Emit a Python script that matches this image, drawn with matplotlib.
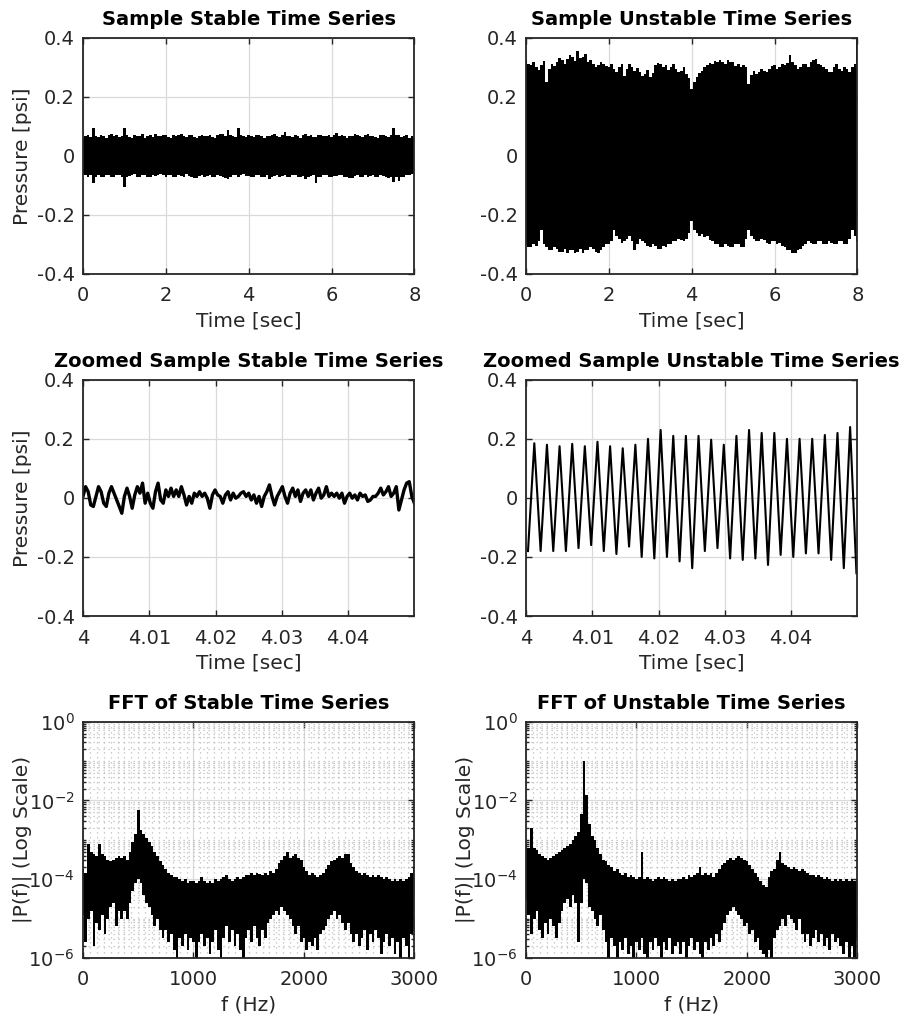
import numpy as np
import matplotlib
matplotlib.use("Agg")
import matplotlib.pyplot as plt
from matplotlib.ticker import MultipleLocator, LogLocator, NullFormatter

plt.rcParams['font.family'] = ['DejaVu Sans']
plt.rcParams['axes.unicode_minus'] = False

# ---- envelopes of the 8 s records (psi), one value every 0.0625 s ----
stable_hi = [0.058, 0.066, 0.07, 0.063, 0.095, 0.068, 0.064, 0.072, 0.066, 0.06, 0.07, 0.074, 0.066, 0.07, 0.063, 0.068,
             0.095, 0.07, 0.065, 0.062, 0.072, 0.068, 0.066, 0.074, 0.06, 0.067, 0.07, 0.064, 0.075, 0.068, 0.066, 0.07,
             0.07, 0.064, 0.062, 0.07, 0.068, 0.072, 0.075, 0.066, 0.065, 0.07, 0.07, 0.063, 0.06, 0.068, 0.072, 0.066,
             0.068, 0.07, 0.065, 0.062, 0.07, 0.074, 0.075, 0.068, 0.088, 0.07, 0.068, 0.064, 0.095, 0.07, 0.066, 0.064,
             0.07, 0.068, 0.065, 0.07, 0.072, 0.066, 0.062, 0.068, 0.068, 0.072, 0.075, 0.066, 0.065, 0.07, 0.082, 0.068,
             0.068, 0.064, 0.07, 0.066, 0.062, 0.07, 0.075, 0.068, 0.07, 0.064, 0.065, 0.072, 0.072, 0.066, 0.068, 0.07,
             0.065, 0.07, 0.078, 0.068, 0.07, 0.066, 0.062, 0.068, 0.068, 0.074, 0.072, 0.066, 0.065, 0.07, 0.075, 0.068,
             0.068, 0.064, 0.062, 0.07, 0.07, 0.066, 0.065, 0.072, 0.095, 0.07, 0.07, 0.064, 0.066, 0.07, 0.062, 0.066,
             0.065]
stable_lo = [-0.06, -0.066, -0.07, -0.064, -0.093, -0.07, -0.065, -0.07, -0.07, -0.064, -0.066, -0.072, -0.072, -0.066, -0.065, -0.07,
             -0.105, -0.07, -0.068, -0.064, -0.062, -0.07, -0.07, -0.066, -0.065, -0.072, -0.072, -0.066, -0.068, -0.064, -0.06, -0.066,
             -0.07, -0.066, -0.065, -0.07, -0.072, -0.066, -0.068, -0.072, -0.062, -0.068, -0.07, -0.074, -0.075, -0.068, -0.065, -0.07,
             -0.068, -0.064, -0.072, -0.07, -0.065, -0.068, -0.07, -0.074, -0.078, -0.07, -0.066, -0.064, -0.07, -0.066, -0.062, -0.068,
             -0.068, -0.072, -0.072, -0.066, -0.065, -0.07, -0.07, -0.066, -0.078, -0.07, -0.068, -0.064, -0.072, -0.068, -0.065, -0.07,
             -0.07, -0.064, -0.066, -0.07, -0.072, -0.068, -0.08, -0.07, -0.068, -0.064, -0.093, -0.07, -0.07, -0.066, -0.065, -0.07,
             -0.072, -0.068, -0.068, -0.064, -0.065, -0.07, -0.07, -0.074, -0.075, -0.068, -0.066, -0.07, -0.07, -0.066, -0.072, -0.068,
             -0.065, -0.07, -0.07, -0.064, -0.068, -0.072, -0.075, -0.07, -0.09, -0.072, -0.085, -0.07, -0.07, -0.064, -0.065, -0.062,
             -0.06]
unstable_hi = [0.323, 0.31, 0.306, 0.318, 0.300, 0.29, 0.306, 0.32, 0.25, 0.295, 0.311, 0.305, 0.317, 0.33, 0.323, 0.31,
               0.328, 0.34, 0.334, 0.322, 0.356, 0.33, 0.334, 0.345, 0.317, 0.325, 0.311, 0.3, 0.306, 0.318, 0.311, 0.305,
               0.300, 0.31, 0.295, 0.285, 0.300, 0.31, 0.27, 0.295, 0.311, 0.3, 0.289, 0.297, 0.284, 0.27, 0.278, 0.29,
               0.266, 0.28, 0.306, 0.315, 0.311, 0.3, 0.306, 0.29, 0.300, 0.31, 0.295, 0.283, 0.289, 0.3, 0.278, 0.265,
               0.227, 0.25, 0.266, 0.28, 0.289, 0.3, 0.306, 0.315, 0.311, 0.322, 0.317, 0.325, 0.317, 0.31, 0.323, 0.318,
               0.317, 0.305, 0.311, 0.3, 0.306, 0.3, 0.244, 0.275, 0.289, 0.278, 0.284, 0.295, 0.289, 0.283, 0.295, 0.305,
               0.306, 0.295, 0.300, 0.31, 0.306, 0.315, 0.340, 0.318, 0.306, 0.295, 0.300, 0.31, 0.311, 0.3, 0.317, 0.325,
               0.328, 0.31, 0.306, 0.3, 0.295, 0.285, 0.284, 0.3, 0.311, 0.295, 0.289, 0.3, 0.295, 0.285, 0.300, 0.31,
               0.40]
unstable_lo = [-0.30, -0.31, -0.31, -0.30, -0.305, -0.29, -0.25, -0.3, -0.31, -0.32, -0.32, -0.31, -0.315, -0.325, -0.325, -0.315,
               -0.33, -0.32, -0.32, -0.33, -0.325, -0.315, -0.33, -0.32, -0.32, -0.31, -0.315, -0.325, -0.33, -0.32, -0.31, -0.3,
               -0.30, -0.29, -0.25, -0.27, -0.28, -0.295, -0.29, -0.28, -0.27, -0.29, -0.32, -0.3, -0.28, -0.29, -0.295, -0.305,
               -0.31, -0.3, -0.305, -0.315, -0.315, -0.305, -0.31, -0.3, -0.30, -0.29, -0.29, -0.28, -0.285, -0.29, -0.28, -0.26,
               -0.22, -0.25, -0.26, -0.27, -0.265, -0.275, -0.27, -0.285, -0.29, -0.3, -0.30, -0.31, -0.31, -0.3, -0.305, -0.31,
               -0.31, -0.3, -0.30, -0.31, -0.31, -0.28, -0.25, -0.27, -0.28, -0.29, -0.29, -0.28, -0.285, -0.295, -0.30, -0.29,
               -0.29, -0.3, -0.295, -0.305, -0.31, -0.32, -0.32, -0.33, -0.33, -0.32, -0.315, -0.305, -0.30, -0.29, -0.295, -0.3,
               -0.30, -0.29, -0.29, -0.3, -0.30, -0.29, -0.295, -0.3, -0.30, -0.29, -0.29, -0.3, -0.30, -0.28, -0.25, -0.27,
               -0.29]

# ---- zoomed records, 4.00 - 4.05 s ----
zoom_stable = [0.005, 0.038, 0.021, -0.024, -0.029, 0.005, 0.038, 0.021, -0.018, -0.029,
               0.016, 0.038, 0.016, -0.007, -0.029, -0.052, 0.005, 0.033, 0.005, -0.035,
               0.010, 0.038, 0.016, 0.050, -0.018, 0.016, -0.018, -0.035, 0.021, 0.050,
               -0.007, -0.018, 0.027, 0.005, 0.033, 0.005, 0.027, 0.005, 0.038, 0.010,
               -0.024, 0.005, -0.018, 0.016, 0.005, 0.021, 0.005, 0.016, -0.001, -0.035,
               0.010, 0.027, 0.010, 0.005, -0.018, 0.010, 0.021, -0.007, 0.016, -0.001,
               0.005, 0.016, 0.021, 0.005, 0.016, -0.007, 0.010, -0.018, 0.005, -0.029,
               0.005, 0.021, 0.044, 0.005, -0.024, 0.005, 0.021, 0.038, 0.005, -0.018,
               0.016, 0.033, 0.005, 0.027, -0.012, 0.016, 0.027, 0.005, 0.027, -0.007,
               0.016, 0.033, -0.001, 0.010, 0.038, 0.005, 0.016, 0.005, 0.016, -0.001,
               0.016, -0.018, 0.005, 0.016, -0.001, 0.010, -0.007, 0.016, 0.005, 0.010,
               -0.012, -0.007, 0.005, 0.005, 0.016, 0.033, 0.010, 0.021, 0.038, 0.005,
               0.016, 0.038, -0.041, -0.007, 0.027, 0.050, 0.055, 0.005, -0.018]
# alternating trough / peak values of the unstable oscillation
zoom_unstable = [-0.18, 0.185, -0.18, 0.18, -0.18, 0.175, -0.18, 0.183, -0.17, 0.175,
                 -0.16, 0.19, -0.18, 0.175, -0.19, 0.168, -0.165, 0.18, -0.20, 0.20,
                 -0.205, 0.23, -0.20, 0.21, -0.215, 0.21, -0.238, 0.21, -0.18, 0.197,
                 -0.17, 0.18, -0.205, 0.21, -0.21, 0.23, -0.205, 0.22, -0.227, 0.22,
                 -0.193, 0.20, -0.20, 0.20, -0.188, 0.20, -0.188, 0.213, -0.21, 0.22,
                 -0.238, 0.24, -0.255]
zoom_unstable_t0, zoom_unstable_t1 = 4.0003, 4.04985

# ---- FFT envelopes, log10 |P(f)|, one value every 25 Hz from 0 to 3000 Hz ----
fft_stable_hi = [-3.75, -3.85, -3.1, -3.3, -3.35, -3.4, -3.1, -3.35,
                 -3.4, -3.5, -3.55, -3.5, -3.45, -3.4, -3.45, -3.4,
                 -3.5, -3.3, -3.05, -2.85, -2.25, -2.75, -2.85, -2.95,
                 -3.05, -3.15, -3.3, -3.4, -3.55, -3.65, -3.75, -3.85,
                 -3.9, -3.95, -3.95, -4.0, -4.05, -4.0, -4.1, -4.05,
                 -4.05, -4.1, -4.05, -3.95, -4.05, -4.1, -4.05, -4.1,
                 -4.0, -4.05, -4.0, -3.95, -3.9, -4.0, -4.05, -4.0,
                 -3.95, -4.0, -3.95, -3.9, -3.9, -3.85, -3.9, -3.85,
                 -3.88, -3.9, -3.85, -3.9, -3.8, -3.85, -3.75, -3.6,
                 -3.5, -3.4, -3.3, -3.45, -3.4, -3.35, -3.45, -3.5,
                 -3.7, -3.8, -3.9, -3.85, -3.9, -3.95, -3.9, -3.85,
                 -3.75, -3.65, -3.55, -3.5, -3.45, -3.4, -3.45, -3.35,
                 -3.35, -3.6, -3.7, -3.8, -3.85, -3.9, -3.85, -3.9,
                 -3.95, -3.9, -3.95, -3.9, -3.95, -4.0, -3.95, -4.0,
                 -4.05, -4.0, -4.05, -4.0, -4.05, -4.0, -3.95, -3.85,
                 -3.7]
fft_stable_lo = [-4.9, -5.6, -5.0, -4.8, -5.7, -5.1, -5.3, -4.9,
                 -5.4, -5.0, -4.7, -4.6, -5.2, -4.8, -5.0, -4.8,
                 -5.0, -4.6, -4.3, -4.1, -4.0, -4.1, -4.4, -4.6,
                 -4.7, -4.9, -5.2, -5.0, -5.3, -5.5, -5.3, -5.6,
                 -5.4, -5.8, -6.0, -5.5, -5.7, -5.4, -5.8, -5.5,
                 -5.6, -6.0, -5.6, -5.4, -5.7, -5.5, -5.9, -5.6,
                 -5.3, -5.8, -6.0, -5.5, -5.2, -5.6, -5.3, -5.7,
                 -5.4, -5.8, -6.0, -5.5, -5.3, -5.6, -5.2, -5.5,
                 -5.7, -5.3, -5.5, -5.1, -5.0, -4.9, -4.8, -4.9,
                 -4.7, -4.8, -4.9, -5.0, -5.2, -5.4, -5.2, -5.6,
                 -5.5, -5.8, -5.6, -5.7, -5.5, -5.8, -5.4, -5.3,
                 -5.2, -5.0, -4.9, -4.8, -5.0, -4.9, -5.1, -5.3,
                 -5.1, -5.4, -5.6, -5.4, -5.7, -5.5, -5.3, -5.8,
                 -5.4, -5.6, -5.3, -5.5, -5.9, -5.6, -5.4, -5.7,
                 -5.5, -5.9, -5.6, -6.0, -5.5, -5.7, -6.0, -5.4,
                 -5.3]
fft_unstable_hi = [-3.1, -3.2, -2.7, -3.2, -3.25, -3.35, -3.4, -3.45,
                   -3.5, -3.45, -3.4, -3.35, -3.3, -3.25, -3.2, -3.15,
                   -3.1, -3.0, -2.9, -2.8, -2.35, -1.0, -1.85, -2.6,
                   -2.9, -3.0, -3.2, -3.35, -3.5, -3.55, -3.65, -3.7,
                   -3.8, -3.75, -3.85, -3.9, -3.85, -3.95, -3.9, -3.95,
                   -4.0, -3.95, -3.3, -4.0, -3.95, -4.0, -4.05, -4.0,
                   -3.95, -4.0, -3.95, -4.0, -4.05, -4.0, -4.05, -4.0,
                   -4.0, -3.95, -4.0, -3.9, -3.95, -3.9, -3.85, -3.7,
                   -3.9, -3.85, -3.9, -3.85, -3.95, -3.85, -3.75, -3.65,
                   -3.6, -3.5, -3.45, -3.5, -3.45, -3.4, -3.45, -3.5,
                   -3.55, -3.65, -3.75, -3.85, -3.95, -4.05, -4.15, -4.2,
                   -3.95, -3.8, -3.75, -3.5, -3.3, -3.6, -3.65, -3.7,
                   -3.75, -3.7, -3.75, -3.8, -3.75, -3.8, -3.85, -3.9,
                   -3.9, -3.95, -3.9, -3.95, -4.0, -3.95, -4.0, -4.05,
                   -4.0, -4.05, -4.0, -4.05, -4.0, -4.05, -4.0, -4.05,
                   -4.0]
fft_unstable_lo = [-4.5, -4.9, -5.4, -5.0, -4.8, -5.3, -5.5, -5.1,
                   -5.4, -5.0, -5.2, -5.5, -5.1, -4.8, -4.6, -4.5,
                   -4.7, -4.4, -4.6, -5.6, -4.6, -4.0, -4.1, -4.7,
                   -4.8, -5.0, -5.2, -4.9, -5.3, -5.6, -6.0, -5.5,
                   -5.7, -6.0, -5.6, -5.8, -5.5, -5.9, -5.7, -6.0,
                   -5.6, -5.8, -5.5, -5.9, -6.0, -5.6, -5.8, -5.5,
                   -5.7, -6.0, -5.6, -5.8, -5.5, -5.9, -5.7, -5.6,
                   -5.9, -5.6, -6.0, -5.7, -5.5, -5.8, -5.6, -5.9,
                   -6.0, -5.6, -5.8, -5.5, -5.7, -5.4, -5.6, -5.3,
                   -5.1, -4.9, -4.8, -4.7, -4.8, -4.9, -5.0, -5.2,
                   -5.1, -5.4, -5.3, -5.6, -5.5, -5.8, -5.9, -6.0,
                   -5.8, -6.0, -5.5, -5.3, -5.2, -5.0, -5.2, -4.9,
                   -5.0, -5.1, -5.3, -5.0, -5.4, -5.6, -5.4, -5.7,
                   -5.5, -5.3, -5.6, -5.4, -5.7, -5.5, -5.8, -5.4,
                   -5.6, -5.5, -5.7, -5.9, -5.6, -6.0, -5.7, -6.0,
                   -5.5]

p_ticks = [-0.4, -0.2, 0, 0.2, 0.4]
p_ticklabels = ['-0.4', '-0.2', '0', '0.2', '0.4']
t_ticks = [0, 2, 4, 6, 8]
tz_ticks = [4.0, 4.01, 4.02, 4.03, 4.04]
tz_ticklabels = ['4', '4.01', '4.02', '4.03', '4.04']
f_ticks = [0, 1000, 2000, 3000]

INK = '#262626'
GRID = '#dadada'

fig = plt.figure(figsize=(9.08, 10.25), dpi=100)

cols = [0.0914, 0.5793]
w = 0.3650
rows = [0.7327, 0.3990, 0.0654]
h = 0.2305
YLAB_X = -0.155


def style(ax):
    for s in ax.spines.values():
        s.set_color(INK)
        s.set_linewidth(1.3)
    ax.tick_params(direction='in', which='both', top=True, right=True,
                   color=INK, labelcolor=INK, labelsize=14, width=1.0)
    ax.tick_params(which='major', length=4)
    ax.tick_params(which='minor', length=2)
    ax.tick_params(axis='x', pad=9)
    ax.tick_params(axis='y', pad=6)
    ax.set_axisbelow(True)
    ax.grid(True, which='major', color=GRID, linewidth=0.9)


def time_axes(ax, title, ylabel=True):
    style(ax)
    ax.set_ylim(-0.4, 0.4)
    ax.set_yticks(p_ticks)
    ax.set_yticklabels(p_ticklabels)
    ax.set_title(title, fontsize=14, fontweight='bold', pad=9)
    ax.set_xlabel('Time [sec]', fontsize=14.5, color=INK, labelpad=4)
    if ylabel:
        ax.set_ylabel('Pressure [psi]', fontsize=14.5, color=INK)
        ax.yaxis.set_label_coords(YLAB_X, 0.5)


# row 1: full records
t = np.linspace(0, 8, len(stable_hi))
ax = fig.add_axes([cols[0], rows[0], w, h])
ax.fill_between(t, stable_lo, stable_hi, step='mid', color='k', lw=0)
ax.set_xlim(0, 8)
ax.set_xticks(t_ticks)
time_axes(ax, 'Sample Stable Time Series')

t = np.linspace(0, 8, len(unstable_hi))
ax = fig.add_axes([cols[1], rows[0], w, h])
ax.fill_between(t, unstable_lo, unstable_hi, step='mid', color='k', lw=0)
ax.set_xlim(0, 8)
ax.set_xticks(t_ticks)
time_axes(ax, 'Sample Unstable Time Series', ylabel=False)

# row 2: zoomed records
tz = np.linspace(4.0, 4.05, len(zoom_stable))
ax = fig.add_axes([cols[0], rows[1], w, h])
ax.plot(tz, zoom_stable, color='k', lw=2.4)
ax.set_xlim(4.0, 4.05)
ax.set_xticks(tz_ticks)
ax.set_xticklabels(tz_ticklabels)
time_axes(ax, 'Zoomed Sample Stable Time Series')

tz = np.linspace(zoom_unstable_t0, zoom_unstable_t1, len(zoom_unstable))
ax = fig.add_axes([cols[1], rows[1], w, h])
ax.plot(tz, zoom_unstable, color='k', lw=1.5)
ax.set_xlim(4.0, 4.05)
ax.set_xticks(tz_ticks)
ax.set_xticklabels(tz_ticklabels)
time_axes(ax, 'Zoomed Sample Unstable Time Series', ylabel=False)

# row 3: spectra
f = np.linspace(0, 3000, len(fft_stable_hi))
for i, (lo, hi, title) in enumerate([(fft_stable_lo, fft_stable_hi, 'FFT of Stable Time Series'),
                                     (fft_unstable_lo, fft_unstable_hi, 'FFT of Unstable Time Series')]):
    ax = fig.add_axes([cols[i], rows[2], w, h])
    ax.fill_between(f, 10.0 ** np.array(lo), 10.0 ** np.array(hi), step='mid', color='k', lw=0)
    ax.set_yscale('log')
    ax.set_xlim(0, 3000)
    ax.set_ylim(1e-6, 1)
    style(ax)
    ax.set_xticks(f_ticks)
    ax.set_yticks([1e-6, 1e-4, 1e-2, 1e0])
    ax.yaxis.set_minor_locator(LogLocator(base=10, subs=np.arange(1, 10), numticks=20))
    ax.yaxis.set_minor_formatter(NullFormatter())
    ax.xaxis.set_minor_locator(MultipleLocator(62.5))
    ax.tick_params(axis='x', which='minor', length=0)
    ax.grid(True, which='minor', color='#bdbdbd', linestyle=(0, (1, 3)), linewidth=0.9)
    ax.set_title(title, fontsize=14, fontweight='bold', pad=9)
    ax.set_xlabel('f (Hz)', fontsize=14.5, color=INK, labelpad=4)
    ax.set_ylabel('|P(f)| (Log Scale)', fontsize=14.5, color=INK)
    ax.yaxis.set_label_coords(YLAB_X, 0.5)

fig.savefig('out.png', dpi=100, facecolor='white')
